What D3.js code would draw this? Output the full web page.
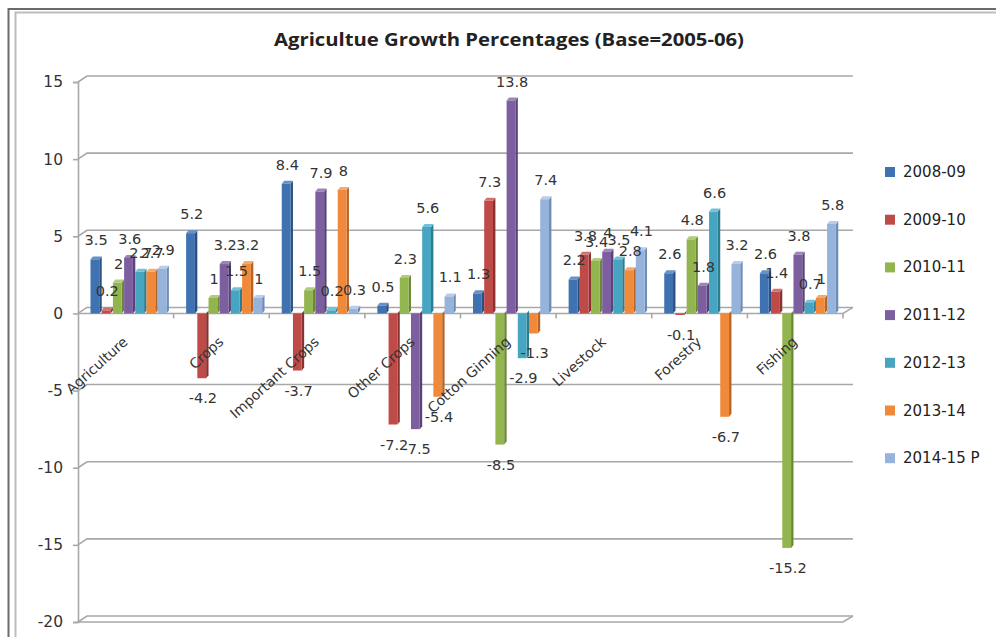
<!DOCTYPE html>
<html>
<head>
<meta charset="utf-8">
<script src="https://cdn.jsdelivr.net/npm/d3@7"></script>
<style>
  html, body { margin: 0; padding: 0; background: #fff; }
  svg { display: block; }
</style>
</head>
<body>
<svg id="chart" width="996" height="637"></svg>
<script>
// Sectors along the category axis
const categories = ["Agriculture", "Crops", "Important Crops", "Other Crops",
  "Cotton Ginning", "Livestock", "Forestry", "Fishing"];

// Fiscal years (one series each)
const seriesNames = ["2008-09", "2009-10", "2010-11", "2011-12", "2012-13", "2013-14", "2014-15 P"];

// Growth percentages, one array per fiscal year, in category order
const fy0809 = [3.5, 5.2, 8.4, 0.5, 1.3, 2.2, 2.6, 2.6];
const fy0910 = [0.2, -4.2, -3.7, -7.2, 7.3, 3.8, -0.1, 1.4];
const fy1011 = [2, 1, 1.5, 2.3, -8.5, 3.4, 4.8, -15.2];
const fy1112 = [3.6, 3.2, 7.9, -7.5, 13.8, 4, 1.8, 3.8];
const fy1213 = [2.7, 1.5, 0.2, 5.6, -2.9, 3.5, 6.6, 0.7];
const fy1314 = [2.7, 3.2, 8, -5.4, -1.3, 2.8, -6.7, 1];
const fy1415 = [2.9, 1, 0.3, 1.1, 7.4, 4.1, 3.2, 5.8];
const seriesValues = [fy0809, fy0910, fy1011, fy1112, fy1213, fy1314, fy1415];

const yTicks = [-20, -15, -10, -5, 0, 5, 10, 15];

// Face colours per series: front, side, top
const palette = [
  { front: "#3F72B0", side: "#2A4F80", top: "#6790C6" },
  { front: "#BE4B48", side: "#8A3230", top: "#D27270" },
  { front: "#93B54F", side: "#6A8836", top: "#B0CB7A" },
  { front: "#7D5FA0", side: "#584277", top: "#9D84BB" },
  { front: "#46A5C0", side: "#2D7C92", top: "#74C0D6" },
  { front: "#F0893A", side: "#B5652A", top: "#F6AA6F" },
  { front: "#96B3DC", side: "#6E8CB6", top: "#B9CDEA" }
];

const svg = d3.select("#chart");
const font = "'DejaVu Sans', 'Liberation Sans', sans-serif";

// Outer frame
svg.append("path").attr("d", "M8.5,637 V9 H996").attr("fill", "none")
  .attr("stroke", "#6b6b6b").attr("stroke-width", 2);
svg.append("path").attr("d", "M15.5,637 V12.5 H996").attr("fill", "none")
  .attr("stroke", "#bdbdbd").attr("stroke-width", 2);

// Title
svg.append("text")
  .attr("x", 509).attr("y", 46)
  .attr("text-anchor", "middle")
  .attr("font-family", "'Open Sans', 'Liberation Sans', sans-serif")
  .attr("font-weight", "bold").attr("font-size", 18)
  .attr("fill", "#222")
  .attr("textLength", 470).attr("lengthAdjust", "spacingAndGlyphs")
  .text("Agricultue Growth Percentages (Base=2005-06)");

// Scales
const axisX = 78, plotRight = 843;
const depthX = 9, depthY = -6;
const y = d3.scaleLinear().domain([-20, 15]).range([622, 82]);
const x = d3.scaleBand().domain(categories).range([axisX, plotRight]).padding(0);
const inner = d3.scaleBand().domain(d3.range(seriesNames.length))
  .range([12.5, 12.5 + 11.2 * seriesNames.length]).padding(0);

const gridColor = "#a8a8a8";
const grid = svg.append("g").attr("fill", "none").attr("stroke", gridColor).attr("stroke-width", 1.6);

// Back-wall gridlines with their slanted side-wall segment
yTicks.forEach(t => {
  const yy = y(t);
  grid.append("path")
    .attr("d", `M${axisX},${yy} L${axisX + depthX},${yy + depthY} H${plotRight + depthX + 1}`);
});

// Floors at zero and at the axis minimum
[0, -20].forEach(t => {
  const yy = y(t);
  grid.append("path")
    .attr("d", `M${axisX},${yy} H${plotRight} L${plotRight + depthX + 1},${yy + depthY}`);
});

// Value axis line and tick marks
const yAxis = d3.axisLeft(y).tickValues(yTicks).tickSize(5).tickPadding(10).tickFormat(d => String(d));
const yAxisG = svg.append("g").attr("transform", `translate(${axisX},0)`).call(yAxis);
yAxisG.select(".domain").attr("stroke", gridColor).attr("stroke-width", 1.6);
yAxisG.selectAll(".tick line").attr("stroke", gridColor).attr("stroke-width", 1.6);
yAxisG.selectAll(".tick text")
  .attr("font-family", font).attr("font-size", 15.5).attr("fill", "#333");

// Category tick marks hanging under the zero floor
const catTicks = categories.map(c => x(c) + x.bandwidth());
svg.append("g").selectAll("line").data(catTicks).join("line")
  .attr("x1", d => d).attr("x2", d => d)
  .attr("y1", y(0)).attr("y2", y(0) + 5)
  .attr("stroke", gridColor).attr("stroke-width", 1.6);

// 3D columns: side face, top face, front face
const sideW = 2.4, capH = 3;
const frontW = inner.bandwidth() - sideW;
const bars = svg.append("g");
seriesValues.forEach((vals, si) => {
  const col = palette[si];
  vals.forEach((v, ci) => {
    const x0 = x(categories[ci]) + inner(si);
    const x1 = x0 + frontW;
    const yTop = y(Math.max(v, 0));
    const yBot = y(Math.min(v, 0));
    const g = bars.append("g");
    g.append("path")
      .attr("d", `M${x1},${yTop} L${x1 + sideW},${yTop - capH} L${x1 + sideW},${yBot - capH} L${x1},${yBot} Z`)
      .attr("fill", col.side);
    if (v > 0) {
      g.append("path")
        .attr("d", `M${x0},${yTop} L${x0 + sideW},${yTop - capH} L${x1 + sideW},${yTop - capH} L${x1},${yTop} Z`)
        .attr("fill", col.top);
    }
    g.append("rect")
      .attr("x", x0).attr("y", yTop)
      .attr("width", frontW).attr("height", Math.max(yBot - yTop, 1))
      .attr("fill", col.front);
  });
});

// Category labels, slanted, drawn over the columns
svg.append("g").selectAll("text").data(categories).join("text")
  .attr("transform", d => `translate(${x(d) + x.bandwidth() / 2 - 4},${y(0) + 22}) rotate(-42)`)
  .attr("text-anchor", "end")
  .attr("dominant-baseline", "hanging")
  .attr("font-family", font).attr("font-size", 14)
  .attr("fill", "#333")
  .text(d => d);

// Data labels above positive columns, below negative ones
const labels = svg.append("g")
  .attr("font-family", font).attr("font-size", 14.5).attr("fill", "#333")
  .attr("text-anchor", "middle").attr("dominant-baseline", "central");
seriesValues.forEach((vals, si) => {
  vals.forEach((v, ci) => {
    const cx = x(categories[ci]) + inner(si) + inner.bandwidth() / 2;
    const cy = v >= 0 ? y(v) - 19 : y(v) + 20;
    labels.append("text").attr("x", cx).attr("y", cy).text(String(v));
  });
});

// Legend
const legend = svg.append("g");
seriesNames.forEach((name, i) => {
  const cy = 172 + 47.7 * i;
  legend.append("rect").attr("x", 885).attr("y", cy - 5).attr("width", 10).attr("height", 10)
    .attr("fill", palette[i].front);
  legend.append("text").attr("x", 903).attr("y", cy)
    .attr("dominant-baseline", "central")
    .attr("font-family", font).attr("font-size", 15).attr("fill", "#222")
    .text(name);
});
</script>
</body>
</html>
